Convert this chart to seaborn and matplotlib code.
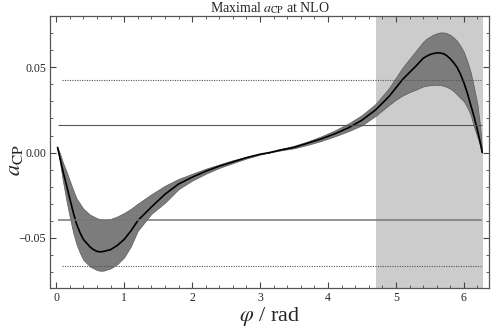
import numpy as np
import pandas as pd
import seaborn as sb
from matplotlib import pyplot as plt
from matplotlib.ticker import MultipleLocator

# values
phi = [0.02, 0.06, 0.1, 0.15, 0.2, 0.25, 0.3, 0.35, 0.4, 0.5, 0.55, 0.6, 0.65, 0.7, 0.8,
       0.9, 1.0, 1.1, 1.2, 1.4, 1.6, 1.8, 2.0, 2.2, 2.4, 2.6, 2.8, 3.0, 3.14, 3.3, 3.5,
       3.7, 3.9, 4.1, 4.3, 4.5, 4.7, 4.9, 5.0, 5.1, 5.2, 5.3, 5.4, 5.45, 5.5, 5.55, 5.6,
       5.65, 5.7, 5.75, 5.8, 5.85, 5.9, 5.95, 6.0, 6.05, 6.1, 6.15, 6.2, 6.24, 6.27]
a_central = [0.003, -0.004, -0.011, -0.019, -0.027, -0.035, -0.042, -0.047, -0.051,
             -0.0555, -0.057, -0.058, -0.0583, -0.058, -0.057, -0.0545, -0.051, -0.046,
             -0.040, -0.032, -0.0245, -0.0185, -0.0145, -0.011, -0.008, -0.0055, -0.003,
             -0.001, 0.0, 0.0015, 0.003, 0.0055, 0.008, 0.011, 0.0145, 0.019, 0.025,
             0.033, 0.038, 0.043, 0.047, 0.051, 0.0553, 0.0565, 0.0575, 0.0581, 0.0585,
             0.0584, 0.058, 0.0568, 0.055, 0.0527, 0.050, 0.046, 0.041, 0.035, 0.028,
             0.021, 0.013, 0.006, 0.0]
a_upper = [0.003, -0.001, -0.006, -0.011, -0.0165, -0.022, -0.027, -0.030, -0.033,
           -0.0365, -0.0375, -0.0385, -0.0392, -0.0395, -0.039, -0.0375, -0.0355, -0.033,
           -0.030, -0.0245, -0.0195, -0.0155, -0.0125, -0.0095, -0.007, -0.0045, -0.0025,
           -0.0008, 0.0, 0.002, 0.004, 0.0065, 0.0095, 0.013, 0.017, 0.022, 0.0285,
           0.038, 0.044, 0.050, 0.055, 0.060, 0.065, 0.0668, 0.068, 0.0692, 0.070,
           0.0705, 0.0705, 0.070, 0.069, 0.0675, 0.0655, 0.0625, 0.059, 0.0535, 0.047,
           0.038, 0.028, 0.015, 0.0]
a_lower = [0.003, -0.007, -0.017, -0.028, -0.038, -0.047, -0.054, -0.059, -0.063,
           -0.067, -0.068, -0.069, -0.0694, -0.0693, -0.068, -0.0655, -0.0615, -0.055,
           -0.046, -0.036, -0.0295, -0.0215, -0.0165, -0.0125, -0.009, -0.0062, -0.0035,
           -0.0012, 0.0, 0.0012, 0.0025, 0.0045, 0.0068, 0.0095, 0.0125, 0.016, 0.0215,
           0.028, 0.031, 0.0335, 0.0355, 0.037, 0.0388, 0.0392, 0.0395, 0.0397, 0.0398,
           0.0396, 0.0392, 0.0385, 0.0375, 0.036, 0.034, 0.032, 0.030, 0.0265, 0.022,
           0.015, 0.009, 0.004, 0.0]
solid_levels = [0.016, -0.0398]
dotted_levels = [0.0427, -0.0665]
shade_range = [3 * np.pi / 2, 2 * np.pi]

sb.set_style('ticks')
plt.rcParams.update({'font.family': ['Liberation Serif', 'DejaVu Serif'],
                     'mathtext.fontset': 'stix',
                     'font.size': 8})

df = pd.DataFrame({'phi': phi, 'central': a_central, 'upper': a_upper, 'lower': a_lower})

fig = plt.figure(figsize=(4.91, 3.28), dpi=100)
ax = fig.add_axes([0.102, 0.122, 0.894, 0.829])

ax.axvspan(shade_range[0], shade_range[1], color='#cccccc', lw=0, zorder=0)
ax.fill_between(df['phi'], df['lower'], df['upper'], color='#7c7c7c',
                edgecolor='#5a5a5a', lw=0.5, zorder=2)
sb.lineplot(data=df, x='phi', y='central', color='black', lw=1.2, ax=ax, zorder=3)

ax.hlines(solid_levels[0], 0.03, 6.26, color='#555555', lw=0.8, zorder=4)
ax.hlines(solid_levels[1], 0.03, 6.26, color='#777777', lw=1.1, zorder=4)
ax.hlines(dotted_levels, 0.09, 6.25, color='#555555', lw=0.8, linestyles=(0, (1, 1.2)), zorder=4)

ax.set_xlim(-0.09, 6.37)
ax.set_ylim(-0.0795, 0.0801)
ax.xaxis.set_major_locator(MultipleLocator(1))
ax.xaxis.set_minor_locator(MultipleLocator(0.2))
ax.yaxis.set_major_locator(MultipleLocator(0.05))
ax.yaxis.set_minor_locator(MultipleLocator(0.01))
ax.set_yticks([-0.05, 0.0, 0.05])
ax.set_yticklabels(['\u22120.05', '0.00', '0.05'])
ax.tick_params(which='both', direction='in', top=True, right=True, color='#444444',
               labelsize=8.5, pad=3)
ax.tick_params(which='major', length=4, width=0.8)
ax.tick_params(which='minor', length=2, width=0.6)
for s in ax.spines.values():
    s.set_color('#555555')
    s.set_linewidth(0.9)

ax.set_xlabel(r'$\varphi$ / rad', fontsize=16)
ax.xaxis.set_label_coords(0.5, -0.064)
ax.set_ylabel(r'$a_{\rm CP}$', fontsize=16)
ax.yaxis.set_label_coords(-0.058, 0.47)
ax.set_title(r'Maximal $a_{\rm CP}$ at NLO', fontsize=10, pad=3)

fig.savefig('out.png', dpi=100)
